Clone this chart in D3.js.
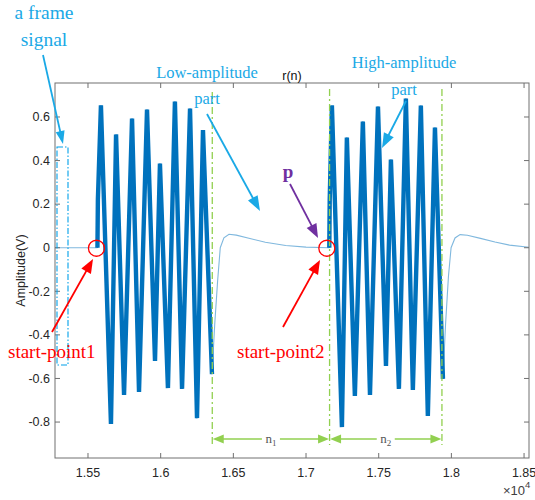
<!DOCTYPE html>
<html>
<head>
<meta charset="utf-8">
<script src="https://cdn.jsdelivr.net/npm/d3@7/dist/d3.min.js"></script>
<style>
  html, body { margin: 0; padding: 0; background: #fff; }
  svg { display: block; }
</style>
</head>
<body>
<svg id="chart" width="535" height="500"></svg>
<script>
// ---------------- data ----------------
const xDomain = [15273, 18534];
const yDomain = [-0.965, 0.756];
const xTicks = [15500, 16000, 16500, 17000, 17500, 18000, 18500];
const xTickLabels = ["1.55", "1.6", "1.65", "1.7", "1.75", "1.8", "1.85"];
const yTicks = [-0.8, -0.6, -0.4, -0.2, 0, 0.2, 0.4, 0.6];
const yTickLabels = ["-0.8", "-0.6", "-0.4", "-0.2", "0", "0.2", "0.4", "0.6"];

// baseline before the frame
const baseline0 = [[15273, 0], [15565, 0]];
// low-amplitude burst: [sample, amplitude] of the extremes
const burst1 = [[15565, 0], [15568, 0.22], [15589, 0.653], [15658, -0.809], [15693, 0.52], [15748, -0.676],
  [15803, 0.593], [15851, -0.662], [15906, 0.634], [15961, -0.52], [15995, 0.386], [16050, -0.644],
  [16098, 0.671], [16147, -0.648], [16202, 0.639], [16250, -0.782], [16291, 0.54], [16353, -0.58]];
const recovery1 = [[16353, -0.58], [16372, -0.35], [16392, -0.15], [16410, 0.0], [16435, 0.045], [16470, 0.062],
  [16520, 0.058], [16600, 0.045], [16720, 0.025], [16860, 0.01], [17000, 0.003], [17160, 0]];
// high-amplitude burst
const burst2 = [[17160, 0], [17163, 0.22], [17178, 0.653], [17247, -0.823], [17281, 0.506], [17336, -0.68],
  [17391, 0.579], [17440, -0.676], [17495, 0.648], [17550, -0.543], [17584, 0.405], [17639, -0.648],
  [17687, 0.685], [17735, -0.653], [17790, 0.653], [17838, -0.772], [17887, 0.552], [17942, -0.602]];
const recovery2 = [[17942, -0.602], [17960, -0.35], [17980, -0.13], [17998, 0], [18025, 0.045], [18060, 0.06],
  [18110, 0.057], [18200, 0.043], [18300, 0.026], [18400, 0.012], [18534, 0.002]];

const startPoints = [15565, 17150];
const boundaries = [16355, 17162, 17935];
const segmentLabels = ["1", "2"];

// ---------------- layout ----------------
const svg = d3.select("#chart");
const L = 55, R = 529, T = 83, B = 458;
const x = d3.scaleLinear().domain(xDomain).range([L, R]);
const y = d3.scaleLinear().domain(yDomain).range([B, T]);

const sans = "'Liberation Sans', Arial, sans-serif";
const serif = "'Liberation Serif', 'Times New Roman', serif";
const axisColor = "#707070";
const cyan = "#1aa9e6";
const red = "#ff0000";
const purple = "#7030a0";
const green = "#92d050";

svg.append("defs").append("clipPath").attr("id", "clip")
  .append("rect").attr("x", L).attr("y", T).attr("width", R - L).attr("height", B - T);

// ---------------- signal ----------------
const line = d3.line().x(d => x(d[0])).y(d => y(d[1]));
const sig = svg.append("g").attr("clip-path", "url(#clip)");
[baseline0, recovery1, recovery2].forEach(s => {
  sig.append("path").attr("d", line(s)).attr("fill", "none")
    .attr("stroke", "#0072BD").attr("stroke-opacity", 0.5).attr("stroke-width", 1.1);
});
[burst1, burst2].forEach(s => {
  sig.append("path").attr("d", line(s)).attr("fill", "none")
    .attr("stroke", "#0072BD").attr("stroke-width", 4.4)
    .attr("stroke-linejoin", "miter").attr("stroke-miterlimit", 3);
  sig.append("path").attr("d", line(s)).attr("fill", "none")
    .attr("stroke", "#0072BD").attr("stroke-width", 1.3)
    .attr("stroke-linejoin", "miter").attr("stroke-miterlimit", 20);
});

// ---------------- axes box ----------------
const ax = svg.append("g");
ax.append("rect").attr("x", L).attr("y", T).attr("width", R - L).attr("height", B - T)
  .attr("fill", "none").attr("stroke", axisColor).attr("stroke-width", 1);
const tl = 5;
xTicks.forEach((t, i) => {
  ax.append("line").attr("x1", x(t)).attr("x2", x(t)).attr("y1", B).attr("y2", B - tl)
    .attr("stroke", axisColor);
  ax.append("line").attr("x1", x(t)).attr("x2", x(t)).attr("y1", T).attr("y2", T + tl)
    .attr("stroke", axisColor);
  ax.append("text").attr("x", x(t)).attr("y", 477).attr("text-anchor", "middle")
    .attr("font-family", sans).attr("font-size", 12.5).attr("fill", "#262626").text(xTickLabels[i]);
});
yTicks.forEach((t, i) => {
  ax.append("line").attr("x1", L).attr("x2", L + tl).attr("y1", y(t)).attr("y2", y(t))
    .attr("stroke", axisColor);
  ax.append("line").attr("x1", R).attr("x2", R - tl).attr("y1", y(t)).attr("y2", y(t))
    .attr("stroke", axisColor);
  ax.append("text").attr("x", 50).attr("y", y(t) + 4.3).attr("text-anchor", "end")
    .attr("font-family", sans).attr("font-size", 12.5).attr("fill", "#262626").text(yTickLabels[i]);
});
const ex = ax.append("text").attr("x", 503).attr("y", 495).attr("font-family", sans)
  .attr("font-size", 13).attr("fill", "#404040");
ex.append("tspan").text("×10");
ex.append("tspan").attr("dy", -7).attr("font-size", 9.5).text("4");
ax.append("text").attr("transform", `translate(25,${(T + B) / 2}) rotate(-90)`)
  .attr("text-anchor", "middle").attr("font-family", sans).attr("font-size", 12.5)
  .attr("fill", "#262626").text("Amplitude(V)");
ax.append("text").attr("x", (L + R) / 2).attr("y", 80).attr("text-anchor", "middle")
  .attr("font-family", sans).attr("font-size", 12.5).attr("fill", "#111").text("r(n)");

// ---------------- annotations ----------------
const ann = svg.append("g");
function arrow(x1, y1, x2, y2, color, w, hl, hw) {
  const dx = x2 - x1, dy = y2 - y1, len = Math.hypot(dx, dy);
  const ux = dx / len, uy = dy / len;
  const bx = x2 - ux * hl, by = y2 - uy * hl;
  ann.append("line").attr("x1", x1).attr("y1", y1).attr("x2", bx + ux * 1).attr("y2", by + uy * 1)
    .attr("stroke", color).attr("stroke-width", w);
  ann.append("polygon").attr("points",
    `${x2},${y2} ${bx - uy * hw / 2},${by + ux * hw / 2} ${bx + uy * hw / 2},${by - ux * hw / 2}`)
    .attr("fill", color);
}

const gTop = [92, 89, 89];
boundaries.forEach((b, i) => {
  ann.append("line").attr("x1", x(b)).attr("x2", x(b)).attr("y1", gTop[i]).attr("y2", 445)
    .attr("stroke", green).attr("stroke-width", 1.3).attr("stroke-dasharray", "7,3,2,3");
});
const ay = 439;
for (let i = 0; i < 2; i++) {
  const xa = x(boundaries[i]) + 0.5, xb = x(boundaries[i + 1]) - 0.5, xm = (xa + xb) / 2;
  arrow(xm, ay, xa, ay, green, 1.5, 11, 9);
  arrow(xm, ay, xb, ay, green, 1.5, 11, 9);
  ann.append("rect").attr("x", xm - 9).attr("y", ay - 8).attr("width", 18).attr("height", 14).attr("fill", "#fff");
  const t = ann.append("text").attr("x", xm).attr("y", ay + 4).attr("text-anchor", "middle")
    .attr("font-family", serif).attr("font-size", 13).attr("fill", "#555");
  t.append("tspan").text("n");
  t.append("tspan").attr("font-size", 9).attr("dy", 3).text(segmentLabels[i]);
}

ann.append("rect").attr("x", 57).attr("y", 147).attr("width", 11).attr("height", 218)
  .attr("fill", "none").attr("stroke", "#00a0e9").attr("stroke-width", 1.1)
  .attr("stroke-dasharray", "6,2,1.5,2");

ann.append("text").attr("x", 44).attr("y", 19).attr("text-anchor", "middle")
  .attr("font-family", serif).attr("font-size", 19.5).attr("fill", cyan).text("a frame");
ann.append("text").attr("x", 44).attr("y", 46).attr("text-anchor", "middle")
  .attr("font-family", serif).attr("font-size", 19.5).attr("fill", cyan).text("signal");
arrow(43, 55, 63, 144, cyan, 1.8, 13, 9);

ann.append("text").attr("x", 207).attr("y", 78).attr("text-anchor", "middle")
  .attr("font-family", serif).attr("font-size", 16.5).attr("fill", cyan).text("Low-amplitude");
ann.append("text").attr("x", 207).attr("y", 104).attr("text-anchor", "middle")
  .attr("font-family", serif).attr("font-size", 16.5).attr("fill", cyan).text("part");
arrow(207, 114, 260, 211, cyan, 1.8, 15, 11);

ann.append("text").attr("x", 404).attr("y", 68).attr("text-anchor", "middle")
  .attr("font-family", serif).attr("font-size", 16.5).attr("fill", cyan).text("High-amplitude");
ann.append("text").attr("x", 404).attr("y", 95).attr("text-anchor", "middle")
  .attr("font-family", serif).attr("font-size", 16.5).attr("fill", cyan).text("part");
arrow(406, 101, 382, 148, cyan, 1.8, 15, 11);

ann.append("text").attr("x", 288).attr("y", 178).attr("text-anchor", "middle")
  .attr("font-family", serif).attr("font-weight", "bold").attr("font-size", 19).attr("fill", purple).text("p");
arrow(290, 184, 318, 238, purple, 1.8, 14, 11);

startPoints.forEach(s => {
  ann.append("circle").attr("cx", x(s) - 1).attr("cy", y(0) + 0.5).attr("r", 8)
    .attr("fill", "none").attr("stroke", red).attr("stroke-width", 1.3);
});
ann.append("text").attr("x", 8).attr("y", 358).attr("font-family", serif).attr("font-size", 19)
  .attr("fill", red).text("start-point1");
arrow(52, 332, 93, 259, red, 1.8, 14, 11);
ann.append("text").attr("x", 237).attr("y", 358).attr("font-family", serif).attr("font-size", 19)
  .attr("fill", red).text("start-point2");
arrow(283, 327, 320, 260, red, 1.8, 14, 11);
</script>
</body>
</html>
